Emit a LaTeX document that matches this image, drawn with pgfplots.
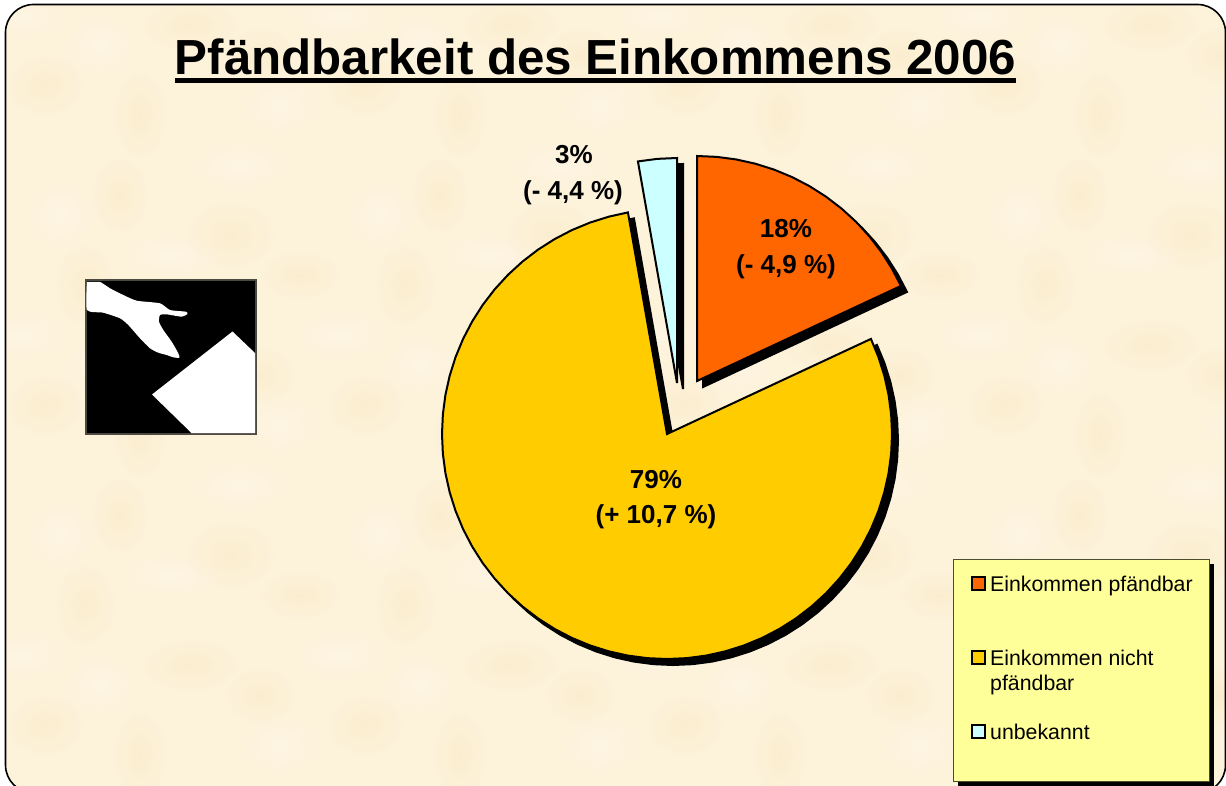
\documentclass[border=0pt]{standalone}
\usepackage{pgfplots}
\pgfplotsset{compat=1.18}
\usepackage{pgfplotstable}
\usepackage{fontspec}
\usetikzlibrary{fadings}
\setmainfont{Liberation Sans}
\definecolor{bg}{HTML}{FDF2DA}
\definecolor{blobD}{HTML}{F7E4B8}
\definecolor{blobL}{HTML}{FFF8EE}
\definecolor{slO}{HTML}{FF6600}
\definecolor{slY}{HTML}{FFCC00}
\definecolor{slB}{HTML}{CCFFFF}
\definecolor{legbg}{HTML}{FFFF99}
\tikzfading[name=softblob,inner color=transparent!0,outer color=transparent!100]
% slices, clockwise from 12 o'clock: about 18 %, 79 %, 3 %
\pgfplotstableread[row sep=\\]{a r\\ -90 0\\ -90 225\\ -85 225\\ -80 225\\ -75 225\\ -70 225\\ -65 225\\ -60 225\\ -55 225\\ -50 225\\ -45 225\\ -40 225\\ -35 225\\ -30 225\\ -25 225\\}\tblOrange
\pgfplotstableread[row sep=\\]{a r\\ -25 0\\ -25 225\\ -20 225\\ -15 225\\ -10 225\\ -5 225\\ 0 225\\ 5 225\\ 10 225\\ 15 225\\ 20 225\\ 25 225\\ 30 225\\ 35 225\\ 40 225\\ 45 225\\ 50 225\\ 55 225\\ 60 225\\ 65 225\\ 70 225\\ 75 225\\ 80 225\\ 85 225\\ 90 225\\ 95 225\\ 100 225\\ 105 225\\ 110 225\\ 115 225\\ 120 225\\ 125 225\\ 130 225\\ 135 225\\ 140 225\\ 145 225\\ 150 225\\ 155 225\\ 160 225\\ 165 225\\ 170 225\\ 175 225\\ 180 225\\ 185 225\\ 190 225\\ 195 225\\ 200 225\\ 205 225\\ 210 225\\ 215 225\\ 220 225\\ 225 225\\ 230 225\\ 235 225\\ 240 225\\ 245 225\\ 250 225\\ 255 225\\ 260 225\\}\tblYellow
\pgfplotstableread[row sep=\\]{a r\\ 260 0\\ 260 225\\ 265 225\\ 270 225\\}\tblBlue
\newcommand{\titlefont}{\fontsize{49.3pt}{52pt}\selectfont\bfseries}
\newcommand{\lblfont}{\fontsize{26pt}{30pt}\selectfont\bfseries}
\newcommand{\legfont}{\fontsize{21.3pt}{24pt}\selectfont}
\begin{document}
\begin{tikzpicture}
\clip (0,0) rectangle (1226pt,785pt);
% page with its paper mottling
\begin{scope}
\path[clip,rounded corners=28pt] (5.5pt,-8pt) rectangle (1225.5pt,780.5pt);
\fill[bg] (0,-10pt) rectangle (1226pt,785pt);
\foreach \ox in {0,320,640,960}{\foreach \oy in {0,320,640}{
  \foreach \bx/\by/\rx/\ry in {45/60/38/30,140/30/26/44,190/120/48/26,85/180/30/40,260/90/34/28,230/230/44/34,120/270/28/38,300/190/40/24}{
    \fill[blobD,path fading=softblob,opacity=.3] (\ox pt+\bx pt,\oy pt+\by pt) ellipse (\rx pt and \ry pt);}
  \foreach \bx/\by/\rx/\ry in {20/130/50/24,100/100/36/34,170/210/54/22,280/40/40/30,240/300/48/26,60/250/34/36}{
    \fill[blobL,path fading=softblob,opacity=.45] (\ox pt+\bx pt,\oy pt+\by pt) ellipse (\rx pt and \ry pt);}
}}
\end{scope}
\draw[draw=black,line width=1.6pt,rounded corners=28pt] (5.5pt,-8pt) rectangle (1225.5pt,780.5pt);
\begin{axis}[at={(0,0)},anchor=south west,scale only axis,width=1226pt,height=785pt,
  xmin=0,xmax=1226,ymin=0,ymax=785,y dir=reverse,hide axis,clip=false]
% title
\node[anchor=base,inner sep=0pt] at (axis cs:595.5,74) {\titlefont Pfändbarkeit des Einkommens 2006};
\addplot[black,line width=4.5pt] coordinates {(175,80.5) (1016,80.5)};
% icon
\addplot[fill=black,draw=black!70!bg,line width=1.5pt] coordinates {(86,280) (256,280) (256,434) (86,434)} --cycle;
\addplot[fill=white,draw=none,smooth,tension=0.35] coordinates {(87,282) (100,282) (110,288.3) (123.3,295) (136.7,300.7) (160,303.3) (170,310) (186,311.7) (187.3,314) (181.7,316.7) (166.7,314.3) (160,315) (159,321.7) (163.3,330) (171.7,341.7) (178.3,353.3) (179.3,357.7) (173.3,357.3) (166.7,355) (158.3,352.7) (150,348.3) (140,338.3) (128.3,325) (120,318.3) (103.3,312.7) (87,310) (87,282)};
\addplot[fill=white,draw=none] coordinates {(232.5,331.5) (255,353) (255,433) (191.5,433) (152,394.5)} --cycle;
% shadows
\addplot[data cs=polar,fill=black,draw=black,line width=2pt,xshift=703pt,yshift=-387pt] table[x=a,y=r] {\tblOrange} --cycle;
\addplot[data cs=polar,fill=black,draw=black,line width=2pt,xshift=673pt,yshift=-440pt] table[x=a,y=r] {\tblYellow} --cycle;
\addplot[data cs=polar,fill=black,draw=black,line width=2pt,xshift=683pt,yshift=-389pt] table[x=a,y=r] {\tblBlue} --cycle;
% slices
\addplot[data cs=polar,fill=slO,draw=black,line width=2pt,xshift=697pt,yshift=-381pt] table[x=a,y=r] {\tblOrange} --cycle;
\addplot[data cs=polar,fill=slY,draw=black,line width=2pt,xshift=667pt,yshift=-434pt] table[x=a,y=r] {\tblYellow} --cycle;
\addplot[data cs=polar,fill=slB,draw=black,line width=2pt,xshift=677pt,yshift=-383pt] table[x=a,y=r] {\tblBlue} --cycle;
% slice labels
\node[anchor=base,inner sep=0pt] at (axis cs:574,163) {\lblfont 3\%};
\node[anchor=base,inner sep=0pt] at (axis cs:573,199) {\lblfont (- 4,4 \%)};
\node[anchor=base,inner sep=0pt] at (axis cs:786,237) {\lblfont 18\%};
\node[anchor=base,inner sep=0pt] at (axis cs:786,273) {\lblfont (- 4,9 \%)};
\node[anchor=base,inner sep=0pt] at (axis cs:656,488) {\lblfont 79\%};
\node[anchor=base,inner sep=0pt] at (axis cs:656,523) {\lblfont (+ 10,7 \%)};
% legend
\addplot[fill=black,draw=none] coordinates {(958,564) (1214,564) (1214,786) (958,786)} --cycle;
\addplot[fill=legbg,draw=black!70!legbg,line width=1pt] coordinates {(953.5,559.5) (1209,559.5) (1209,781) (953.5,781)} --cycle;
\addplot[fill=slO,draw=black,line width=2pt] coordinates {(972,577) (985,577) (985,590) (972,590)} --cycle;
\addplot[fill=slY,draw=black,line width=2pt] coordinates {(972,651) (985,651) (985,664) (972,664)} --cycle;
\addplot[fill=slB,draw=black,line width=2pt] coordinates {(972,725) (985,725) (985,738) (972,738)} --cycle;
\node[anchor=base west,inner sep=0pt] at (axis cs:990,591) {\legfont Einkommen pfändbar};
\node[anchor=base west,inner sep=0pt] at (axis cs:990,665) {\legfont Einkommen nicht};
\node[anchor=base west,inner sep=0pt] at (axis cs:990,690) {\legfont pfändbar};
\node[anchor=base west,inner sep=0pt] at (axis cs:990,739) {\legfont unbekannt};
\end{axis}
\end{tikzpicture}
\end{document}
